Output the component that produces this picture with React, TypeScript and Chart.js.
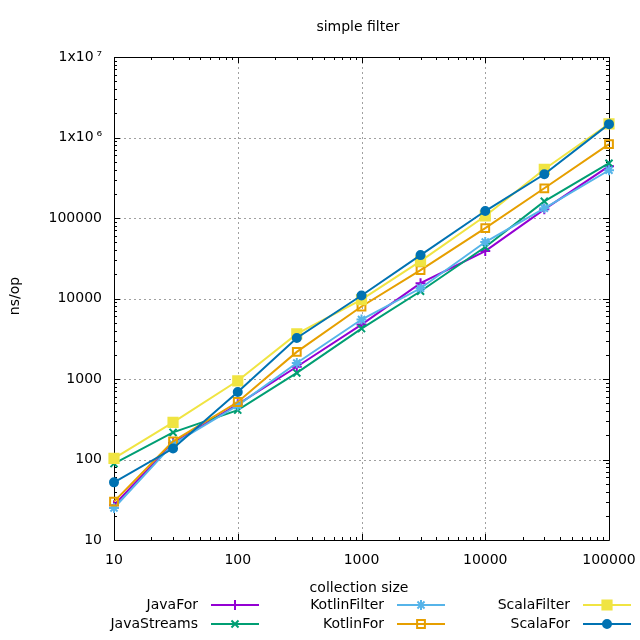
import React, { useEffect, useRef } from "react";
import { Chart, registerables } from "chart.js";
import { drawPoint } from "chart.js/helpers";

Chart.register(...registerables);

const sizes = [10, 30, 100, 300, 1000, 3000, 10000, 30000, 100000];
const javaFor = [27, 160, 485, 1420, 4740, 15500, 38800, 128000, 440000];
const javaStreams = [89, 217, 411, 1190, 4230, 12300, 43600, 161000, 479000];
const kotlinFilter = [25, 155, 470, 1580, 5480, 13400, 50300, 132000, 392000];
const kotlinFor = [30, 168, 518, 2170, 7950, 22500, 75000, 234000, 826000];
const scalaFilter = [103, 289, 950, 3630, 9700, 29100, 106000, 403000, 1480000];
const scalaFor = [52, 137, 689, 3230, 10900, 34600, 122000, 349000, 1466000];

const seriesNames = ["JavaFor", "JavaStreams", "KotlinFilter", "KotlinFor", "ScalaFilter", "ScalaFor"];
const seriesValues = [javaFor, javaStreams, kotlinFilter, kotlinFor, scalaFilter, scalaFor];
const seriesColors = ["#9400d3", "#009e73", "#56b4e9", "#e69f00", "#f0e442", "#0072b2"];

const xTickValues = [10, 100, 1000, 10000, 100000];
const xTickLabels = ["10", "100", "1000", "10000", "100000"];
const yTickValues = [10, 100, 1000, 10000, 100000, 1000000, 10000000];
const yTickLabels = ["10", "100", "1000", "10000", "100000", "1x10\u2009\u2076", "1x10\u2009\u2077"];

const chartTitle = "simple filter";
const xTitle = "collection size";
const yTitle = "ns/op";

const FONT = "DejaVu Sans";
const FS = 14;

const markerStyles = [
  { pointStyle: "cross", radius: 5, fill: "transparent" },
  { pointStyle: "crossRot", radius: 5, fill: "transparent" },
  { pointStyle: "star", radius: 5, fill: "transparent" },
  { pointStyle: "rect", radius: 5.5, fill: "transparent" },
  { pointStyle: "rect", radius: 6.5, fill: null },
  { pointStyle: "circle", radius: 4, fill: null },
];

const framePlugin = {
  id: "gnuframe",
  beforeDatasetsDraw(chart: any) {
    const { ctx, chartArea } = chart;
    const xs = chart.scales.x;
    const ys = chart.scales.y;
    const { left, right, top, bottom } = chartArea;
    ctx.save();
    ctx.strokeStyle = "#a0a0a0";
    ctx.lineWidth = 1;
    ctx.setLineDash([2, 3]);
    ctx.beginPath();
    for (const v of xTickValues) {
      const px = Math.round(xs.getPixelForValue(v)) + 0.5;
      if (px <= left + 1 || px >= right - 1) continue;
      ctx.moveTo(px, top);
      ctx.lineTo(px, bottom);
    }
    for (const v of yTickValues) {
      const py = Math.round(ys.getPixelForValue(v)) + 0.5;
      if (py <= top + 1 || py >= bottom - 1) continue;
      ctx.moveTo(left, py);
      ctx.lineTo(right, py);
    }
    ctx.stroke();
    ctx.setLineDash([]);
    ctx.strokeStyle = "#000";
    ctx.beginPath();
    ctx.rect(Math.round(left) + 0.5, Math.round(top) + 0.5, Math.round(right - left), Math.round(bottom - top));
    ctx.stroke();
    ctx.beginPath();
    const decadesX = [10, 100, 1000, 10000];
    for (const d of decadesX) {
      for (let m = 1; m <= 10; m++) {
        const v = d * m;
        const len = m === 1 || m === 10 ? 6 : 3;
        const px = Math.round(xs.getPixelForValue(v)) + 0.5;
        ctx.moveTo(px, bottom);
        ctx.lineTo(px, bottom - len);
        ctx.moveTo(px, top);
        ctx.lineTo(px, top + len);
      }
    }
    const decadesY = [10, 100, 1000, 10000, 100000, 1000000];
    for (const d of decadesY) {
      for (let m = 1; m <= 10; m++) {
        const v = d * m;
        const len = m === 1 || m === 10 ? 6 : 3;
        const py = Math.round(ys.getPixelForValue(v)) + 0.5;
        ctx.moveTo(left, py);
        ctx.lineTo(left + len, py);
        ctx.moveTo(right, py);
        ctx.lineTo(right - len, py);
      }
    }
    ctx.stroke();
    ctx.restore();
  },
  afterDraw(chart: any) {
    const { ctx } = chart;
    ctx.save();
    ctx.fillStyle = "#000";
    ctx.font = `${FS}px "${FONT}"`;
    ctx.textBaseline = "middle";
    ctx.textAlign = "center";
    ctx.fillText(chartTitle, 358, 27);
    ctx.fillText(xTitle, 359, 588);
    ctx.save();
    ctx.translate(15, 296);
    ctx.rotate(-Math.PI / 2);
    ctx.fillText(yTitle, 0, 0);
    ctx.restore();
    const cols = [
      { textRight: 198, lineStart: 211 },
      { textRight: 384, lineStart: 397 },
      { textRight: 570, lineStart: 583 },
    ];
    const rows = [605, 624];
    for (let i = 0; i < seriesNames.length; i++) {
      const c = cols[Math.floor(i / 2)];
      const y = rows[i % 2];
      ctx.fillStyle = "#000";
      ctx.textAlign = "right";
      ctx.fillText(seriesNames[i], c.textRight, y);
      ctx.strokeStyle = seriesColors[i];
      ctx.lineWidth = 2;
      ctx.beginPath();
      ctx.moveTo(c.lineStart, y);
      ctx.lineTo(c.lineStart + 48, y);
      ctx.stroke();
      const ms = markerStyles[i];
      ctx.fillStyle = ms.fill === null ? seriesColors[i] : ms.fill;
      drawPoint(ctx, { pointStyle: ms.pointStyle, radius: ms.radius, borderWidth: 2, rotation: 0 }, c.lineStart + 24, y);
    }
    ctx.restore();
  },
};

export default function App() {
  const ref = useRef<HTMLCanvasElement | null>(null);
  useEffect(() => {
    if (!ref.current) return;
    const datasets = seriesNames.map((name, i) => ({
      label: name,
      data: sizes.map((s, j) => ({ x: s, y: seriesValues[i][j] })),
      borderColor: seriesColors[i],
      backgroundColor: markerStyles[i].fill === null ? seriesColors[i] : markerStyles[i].fill,
      borderWidth: 2,
      pointStyle: markerStyles[i].pointStyle,
      pointRadius: markerStyles[i].radius,
      pointBorderWidth: 2,
      pointBorderColor: seriesColors[i],
      pointBackgroundColor: markerStyles[i].fill === null ? seriesColors[i] : markerStyles[i].fill,
      tension: 0,
      clip: false,
      order: seriesNames.length - i,
    }));
    const chart = new Chart(ref.current, {
      type: "line",
      data: { datasets },
      options: {
        animation: false,
        responsive: false,
        maintainAspectRatio: false,
        layout: { padding: { top: 57, right: 31, left: 0, bottom: 0 } },
        plugins: {
          legend: { display: false },
          title: { display: false },
          tooltip: { enabled: false },
        },
        scales: {
          x: {
            type: "logarithmic",
            min: 10,
            max: 100000,
            grid: { display: false, drawTicks: false },
            border: { display: false },
            afterBuildTicks: (scale: any) => {
              scale.ticks = xTickValues.map((v) => ({ value: v }));
            },
            afterFit: (scale: any) => {
              scale.height = 100;
              scale.paddingLeft = 0;
              scale.paddingRight = 0;
            },
            ticks: {
              autoSkip: false,
              maxRotation: 0,
              minRotation: 0,
              padding: 12,
              color: "#000",
              font: { family: FONT, size: FS },
              callback: (value: any) => {
                const k = xTickValues.indexOf(Number(value));
                return k >= 0 ? xTickLabels[k] : "";
              },
            },
          },
          y: {
            type: "logarithmic",
            min: 10,
            max: 10000000,
            grid: { display: false, drawTicks: false },
            border: { display: false },
            afterBuildTicks: (scale: any) => {
              scale.ticks = yTickValues.map((v) => ({ value: v }));
            },
            afterFit: (scale: any) => {
              scale.width = 114;
              scale.paddingTop = 0;
              scale.paddingBottom = 0;
            },
            ticks: {
              autoSkip: false,
              padding: 12,
              color: "#000",
              font: { family: FONT, size: FS },
              callback: (value: any) => {
                const k = yTickValues.indexOf(Number(value));
                return k >= 0 ? yTickLabels[k] : "";
              },
            },
          },
        },
      },
      plugins: [framePlugin],
    } as any);
    return () => chart.destroy();
  }, []);
  return (
    <div style={{ position: "fixed", left: 0, top: 0, width: 640, height: 640, background: "#fff" }}>
      <canvas ref={ref} width={640} height={640} style={{ width: 640, height: 640 }} />
    </div>
  );
}
